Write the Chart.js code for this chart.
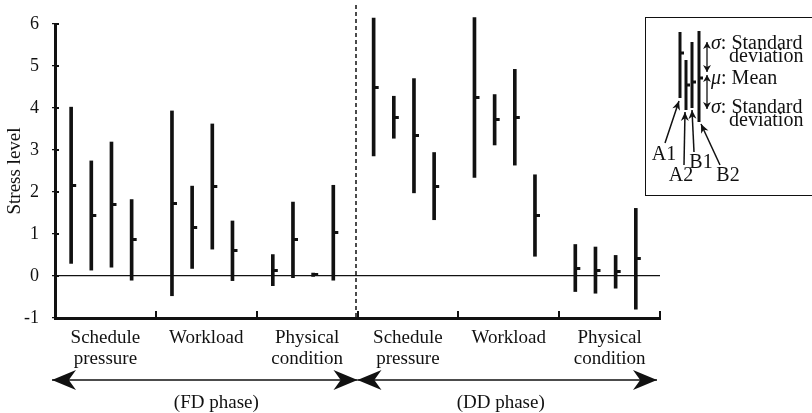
<!DOCTYPE html>
<html>
<head>
<meta charset="utf-8">
<script src="https://cdn.jsdelivr.net/npm/chart.js@4.4.1/dist/chart.umd.min.js"></script>
<style>
  html, body { margin: 0; padding: 0; background: #fff; overflow: hidden; }
  canvas { display: block; }
</style>
</head>
<body>
<canvas id="stress-chart" width="812" height="413"></canvas>
<script>
// Categories along the x axis (three per phase)
const categories = [
  ['Schedule', 'pressure'], 'Workload', ['Physical', 'condition'],
  ['Schedule', 'pressure'], 'Workload', ['Physical', 'condition']
];
const phases = ['(FD phase)', '(DD phase)'];
const phaseLabelAt = [1.6, 4.42];   // x value where each phase caption sits
const seriesNames = ['A1', 'A2', 'B1', 'B2'];
const yTicks = [-1, 0, 1, 2, 3, 4, 5, 6];

// mean and standard deviation of the stress level, per category
const meanA1 = [2.16, 1.73, 0.14, 4.50, 4.25, 0.19];
const sdA1   = [1.86, 2.20, 0.37, 1.64, 1.90, 0.56];
const meanA2 = [1.44, 1.16, 0.86, 3.78, 3.72, 0.14];
const sdA2   = [1.30, 0.98, 0.90, 0.50, 0.60, 0.55];
const meanB1 = [1.70, 2.13, 0.03, 3.34, 3.78, 0.10];
const sdB1   = [1.49, 1.49, 0.04, 1.36, 1.14, 0.39];
const meanB2 = [0.86, 0.60, 1.03, 2.14, 1.44, 0.41];
const sdB2   = [0.96, 0.71, 1.13, 0.80, 0.97, 1.20];

// where each series sits inside its category band
const barOffsets = [0.16, 0.36, 0.56, 0.76];

const INK = '#111';
const SERIF = "'Liberation Serif', 'Times New Roman', serif";

const means = [meanA1, meanA2, meanB1, meanB2];
const sds = [sdA1, sdA2, sdB1, sdB2];

// little mark to the right of each bar showing the mean
const meanTick = document.createElement('canvas');
meanTick.width = 12;
meanTick.height = 3;
const mctx = meanTick.getContext('2d');
mctx.fillStyle = INK;
mctx.fillRect(6, 0, 5, 3);

const barSets = seriesNames.map((name, s) => ({
  type: 'bar',
  label: name,
  data: categories.map((c, i) => ({
    x: i + barOffsets[s],
    y: [means[s][i] - sds[s][i], means[s][i] + sds[s][i]]
  })),
  backgroundColor: INK,
  borderWidth: 0,
  barThickness: 3,
  grouped: false,
  clip: false,
  order: 2
}));

const meanSets = seriesNames.map((name, s) => ({
  type: 'line',
  label: name + ' mean',
  data: categories.map((c, i) => ({ x: i + barOffsets[s], y: means[s][i] })),
  showLine: false,
  pointStyle: meanTick,
  pointRadius: 3,
  clip: false,
  order: 1
}));

function arrowHead(ctx, x, y, angle, len, half) {
  // stealth style head, tip at (x, y)
  ctx.save();
  ctx.translate(x, y);
  ctx.rotate(angle);
  ctx.beginPath();
  ctx.moveTo(0, 0);
  ctx.lineTo(-len, -half);
  ctx.lineTo(-len * 0.7, 0);
  ctx.lineTo(-len, half);
  ctx.closePath();
  ctx.fill();
  ctx.restore();
}

function arrow(ctx, x1, y1, x2, y2, len, half, both) {
  ctx.beginPath();
  ctx.moveTo(x1, y1);
  ctx.lineTo(x2, y2);
  ctx.stroke();
  const a = Math.atan2(y2 - y1, x2 - x1);
  arrowHead(ctx, x2, y2, a, len, half);
  if (both) arrowHead(ctx, x1, y1, a + Math.PI, len, half);
}

function symbolText(ctx, sym, rest, x, y) {
  ctx.font = 'italic 20px ' + SERIF;
  ctx.fillText(sym, x, y);
  const w = ctx.measureText(sym).width;
  ctx.font = '20px ' + SERIF;
  ctx.fillText(rest, x + w, y);
}

const decorations = {
  id: 'decorations',
  afterDraw(chart) {
    const { ctx, chartArea } = chart;
    const x = chart.scales.x;
    const y = chart.scales.y;
    ctx.save();
    ctx.fillStyle = INK;
    ctx.strokeStyle = INK;

    // inward ticks on the bottom axis at category boundaries
    ctx.lineWidth = 2;
    for (let i = 1; i <= categories.length; i++) {
      const px = Math.round(x.getPixelForValue(i));
      ctx.beginPath();
      ctx.moveTo(px, chartArea.bottom);
      ctx.lineTo(px, chartArea.bottom - 7);
      ctx.stroke();
    }
    // small inward ticks on the y axis
    yTicks.forEach(v => {
      const py = Math.round(y.getPixelForValue(v));
      ctx.beginPath();
      ctx.moveTo(chartArea.left, py);
      ctx.lineTo(chartArea.left + 4, py);
      ctx.stroke();
    });

    // dashed divider between the two phases
    const mid = Math.round(x.getPixelForValue(categories.length / 2)) - 2;
    ctx.lineWidth = 1.5;
    ctx.setLineDash([4, 3]);
    ctx.beginPath();
    ctx.moveTo(mid, 5);
    ctx.lineTo(mid, chartArea.bottom);
    ctx.stroke();
    ctx.setLineDash([]);

    // phase arrows and captions
    const ay = 380;
    const x0 = x.getPixelForValue(0) - 3;
    const x3 = x.getPixelForValue(3);
    const x6 = x.getPixelForValue(6) - 3;
    ctx.lineWidth = 1.5;
    arrow(ctx, x0, ay, x3, ay, 24, 10, true);
    arrow(ctx, x3, ay, x6, ay, 24, 10, true);
    ctx.font = '19px ' + SERIF;
    ctx.textAlign = 'center';
    ctx.textBaseline = 'middle';
    phases.forEach((p, i) => ctx.fillText(p, x.getPixelForValue(phaseLabelAt[i]), 403));

    // explanation box, top right
    ctx.lineWidth = 1;
    ctx.strokeRect(645.5, 17.5, 190, 178);
    ctx.lineWidth = 3;
    const key = [
      [680, 32, 98, 53],
      [686, 60, 110, 85],
      [692, 42, 108, 82],
      [699, 31, 122, 78]
    ];
    key.forEach(([kx, top, bot, m]) => {
      ctx.beginPath();
      ctx.moveTo(kx, top);
      ctx.lineTo(kx, bot);
      ctx.stroke();
      ctx.fillRect(kx, m - 1.5, 4, 3);
    });
    ctx.lineWidth = 1.3;
    arrow(ctx, 707, 42, 707, 72, 7, 4, true);
    arrow(ctx, 707, 75, 707, 109, 7, 4, true);

    ctx.textAlign = 'left';
    symbolText(ctx, 'σ', ': Standard', 711, 44);
    ctx.fillText('deviation', 729, 57);
    symbolText(ctx, 'μ', ': Mean', 711, 79);
    symbolText(ctx, 'σ', ': Standard', 711, 108);
    ctx.fillText('deviation', 729, 121);

    ctx.textAlign = 'center';
    ctx.font = '20px ' + SERIF;
    ctx.fillText('A1', 664, 155);
    ctx.fillText('A2', 681, 176);
    ctx.fillText('B1', 701, 163);
    ctx.fillText('B2', 728, 176);
    ctx.lineWidth = 1.5;
    arrow(ctx, 665, 143, 679, 101, 9, 4);
    arrow(ctx, 684, 165, 685, 112, 9, 4);
    arrow(ctx, 694, 152, 692, 110, 9, 4);
    arrow(ctx, 720, 165, 701, 124, 9, 4);

    ctx.restore();
  }
};

Chart.defaults.font.family = SERIF;
Chart.defaults.font.size = 19;
Chart.defaults.color = INK;

new Chart(document.getElementById('stress-chart'), {
  type: 'bar',
  data: { datasets: [...meanSets, ...barSets] },
  options: {
    responsive: false,
    animation: false,
    devicePixelRatio: 1,
    layout: { padding: { top: 24, right: 152, bottom: 0, left: 0 } },
    plugins: {
      legend: { display: false },
      tooltip: { enabled: false }
    },
    scales: {
      x: {
        type: 'linear',
        min: 0,
        max: categories.length,
        offset: false,
        grid: { display: false },
        border: { display: true, color: INK, width: 3 },
        afterFit: (axis) => { axis.height = 95; },
        ticks: {
          stepSize: 0.5,
          autoSkip: false,
          maxRotation: 0,
          minRotation: 0,
          padding: 1,
          font: { size: 19, lineHeight: 1.12 },
          callback: (v) => {
            const i = v - 0.5;
            return Number.isInteger(i) ? categories[i] : '';
          }
        }
      },
      y: {
        min: yTicks[0],
        max: yTicks[yTicks.length - 1],
        afterFit: (axis) => { axis.width = 55; },
        afterBuildTicks: (axis) => { axis.ticks = yTicks.map(v => ({ value: v })); },
        grid: {
          color: (c) => (c.tick && c.tick.value === 0 ? INK : 'rgba(0,0,0,0)'),
          lineWidth: 1.2,
          tickColor: INK,
          tickLength: 3
        },
        border: { display: true, color: INK, width: 3 },
        ticks: { padding: 13, font: { size: 18 } },
        title: {
          display: true,
          text: 'Stress level',
          font: { size: 19 },
          padding: { top: 4, bottom: 0 }
        }
      }
    }
  },
  plugins: [decorations]
});
</script>
</body>
</html>
